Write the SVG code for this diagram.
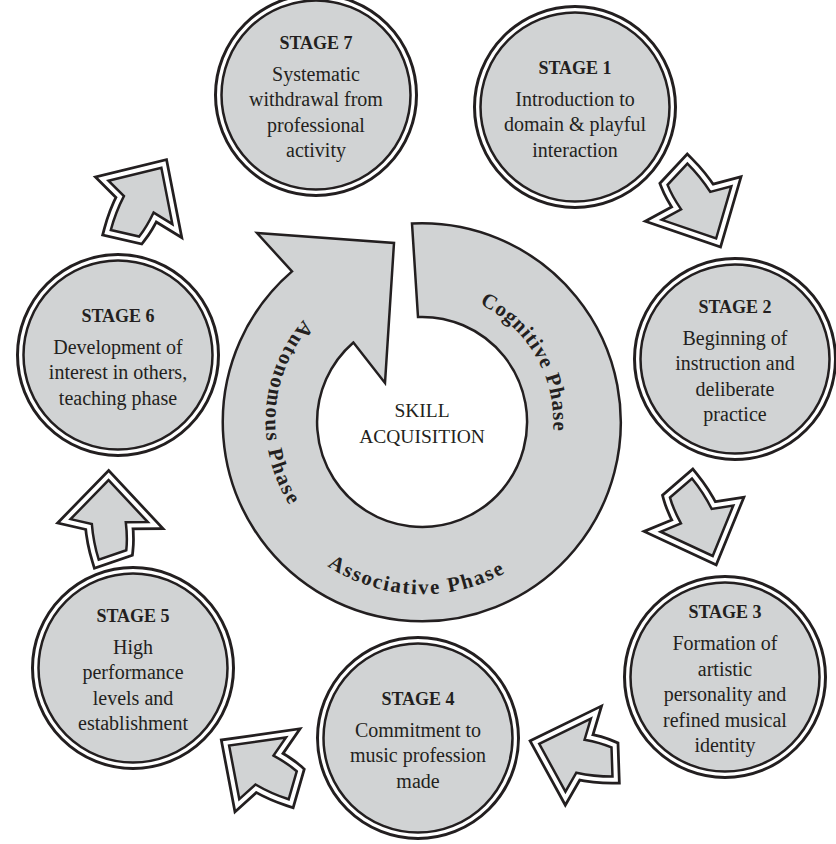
<svg xmlns="http://www.w3.org/2000/svg" width="836" height="844" viewBox="0 0 836 844">
  <defs>
    <style>
      .ring-o{fill:#fff;stroke:#231f20;stroke-width:3}
      .ring-i{fill:#d1d3d4;stroke:#231f20;stroke-width:2.5}
      .title{font-family:"Liberation Serif",serif;font-weight:bold;font-size:18px;fill:#231f20;text-anchor:middle}
      .body{font-family:"Liberation Serif",serif;font-size:20px;fill:#231f20;text-anchor:middle}
      .phase{font-family:"Liberation Serif",serif;font-weight:bold;font-size:21px;fill:#231f20}
      .core{font-family:"Liberation Serif",serif;font-size:19.5px;fill:#231f20;text-anchor:middle}
      .cycle{fill:#d1d3d4;stroke:#231f20;stroke-width:2.5;stroke-linejoin:miter}
      .a1{fill:none;stroke:#231f20;stroke-width:16;stroke-linejoin:miter;stroke-miterlimit:10}
      .a2{fill:none;stroke:#fff;stroke-width:10.5;stroke-linejoin:miter;stroke-miterlimit:10}
      .a3{fill:#d1d3d4;stroke:#231f20;stroke-width:2.5;stroke-linejoin:miter;stroke-miterlimit:10}
    </style>
    <!-- curved block arrow: shaft end near origin, head along +x, +y bends toward the loop centre -->
    <path id="blk" d="M-4,-14 Q14,-18.5 32,-19 L38,-40 L75,0 L31,37 L32,15 Q16,16 4,14 Z"/>
    <!-- baselines for the phase labels -->
    <path id="pCog" d="M360.5,306.3 A131,131 0 0 1 491.4,533.1"/>
    <path id="pAuto" d="M427.5,265.1 A157,157 0 0 0 405.6,578.1"/>
    <path id="pAssoc" d="M250,422 A172,172 0 0 0 593.6,434"/>
  </defs>

  <rect width="836" height="844" fill="#fff"/>

  <!-- central cycle -->
  <g id="cycle">
    <path class="cycle" d="M412,223.5 A199,199 0 1 1 292,271.4 L257,233 L394,243 L385,383 L353.4,342.5 A105,105 0 1 0 418,317 Z"/>
    <text class="phase" letter-spacing="0.8"><textPath href="#pCog" startOffset="50%" text-anchor="middle">Cognitive Phase</textPath></text>
    <text class="phase" letter-spacing="1.8"><textPath href="#pAuto" startOffset="50%" text-anchor="middle">Autonomous Phase</textPath></text>
    <text class="phase" letter-spacing="1.8"><textPath href="#pAssoc" startOffset="50%" text-anchor="middle">Associative Phase</textPath></text>
    <text class="core" x="422" y="417">SKILL</text>
    <text class="core" x="422" y="443">ACQUISITION</text>
  </g>

  <!-- connectors between stages -->
  <g id="connectors">
    <g transform="translate(677.5,174.2) rotate(59)"><use href="#blk" class="a1"/><use href="#blk" class="a2"/><use href="#blk" class="a3"/></g>
    <g transform="translate(681,488) rotate(65)"><use href="#blk" class="a1"/><use href="#blk" class="a2"/><use href="#blk" class="a3"/></g>
    <g transform="translate(612,762) rotate(194)"><use href="#blk" class="a1"/><use href="#blk" class="a2"/><use href="#blk" class="a3"/></g>
    <g transform="translate(292.7,785.3) rotate(212)"><use href="#blk" class="a1"/><use href="#blk" class="a2"/><use href="#blk" class="a3"/></g>
    <g transform="translate(112.5,555) rotate(-93)"><use href="#blk" class="a1"/><use href="#blk" class="a2"/><use href="#blk" class="a3"/></g>
    <g transform="translate(125,233.3) rotate(-61)"><use href="#blk" class="a1"/><use href="#blk" class="a2"/><use href="#blk" class="a3"/></g>
  </g>

  <!-- stages -->
  <g id="stage1">
    <circle class="ring-o" cx="575" cy="107" r="100.5"/>
    <circle class="ring-i" cx="575" cy="107" r="94.5"/>
    <text class="title" x="575" y="73.5">STAGE 1</text>
    <text class="body" x="575" y="105.5">Introduction to</text>
    <text class="body" x="575" y="131">domain &amp; playful</text>
    <text class="body" x="575" y="156.5">interaction</text>
  </g>
  <g id="stage2">
    <circle class="ring-o" cx="735" cy="359" r="100.5"/>
    <circle class="ring-i" cx="735" cy="359" r="94.5"/>
    <text class="title" x="735" y="312.75">STAGE 2</text>
    <text class="body" x="735" y="344.75">Beginning of</text>
    <text class="body" x="735" y="370.25">instruction and</text>
    <text class="body" x="735" y="395.75">deliberate</text>
    <text class="body" x="735" y="421.25">practice</text>
  </g>
  <g id="stage3">
    <circle class="ring-o" cx="725" cy="677" r="100.5"/>
    <circle class="ring-i" cx="725" cy="677" r="94.5"/>
    <text class="title" x="725" y="618">STAGE 3</text>
    <text class="body" x="725" y="650">Formation of</text>
    <text class="body" x="725" y="675.5">artistic</text>
    <text class="body" x="725" y="701">personality and</text>
    <text class="body" x="725" y="726.5">refined musical</text>
    <text class="body" x="725" y="752">identity</text>
  </g>
  <g id="stage4">
    <circle class="ring-o" cx="418" cy="738" r="100.5"/>
    <circle class="ring-i" cx="418" cy="738" r="94.5"/>
    <text class="title" x="418" y="704.5">STAGE 4</text>
    <text class="body" x="418" y="736.5">Commitment to</text>
    <text class="body" x="418" y="762">music profession</text>
    <text class="body" x="418" y="787.5">made</text>
  </g>
  <g id="stage5">
    <circle class="ring-o" cx="133" cy="668" r="100.5"/>
    <circle class="ring-i" cx="133" cy="668" r="94.5"/>
    <text class="title" x="133" y="621.75">STAGE 5</text>
    <text class="body" x="133" y="653.75">High</text>
    <text class="body" x="133" y="679.25">performance</text>
    <text class="body" x="133" y="704.75">levels and</text>
    <text class="body" x="133" y="730.25">establishment</text>
  </g>
  <g id="stage6">
    <circle class="ring-o" cx="118" cy="355" r="100.5"/>
    <circle class="ring-i" cx="118" cy="355" r="94.5"/>
    <text class="title" x="118" y="321.5">STAGE 6</text>
    <text class="body" x="118" y="353.5">Development of</text>
    <text class="body" x="118" y="379">interest in others,</text>
    <text class="body" x="118" y="404.5">teaching phase</text>
  </g>
  <g id="stage7">
    <circle class="ring-o" cx="316" cy="95" r="100.5"/>
    <circle class="ring-i" cx="316" cy="95" r="94.5"/>
    <text class="title" x="316" y="48.75">STAGE 7</text>
    <text class="body" x="316" y="80.75">Systematic</text>
    <text class="body" x="316" y="106.25">withdrawal from</text>
    <text class="body" x="316" y="131.75">professional</text>
    <text class="body" x="316" y="157.25">activity</text>
  </g>
</svg>
